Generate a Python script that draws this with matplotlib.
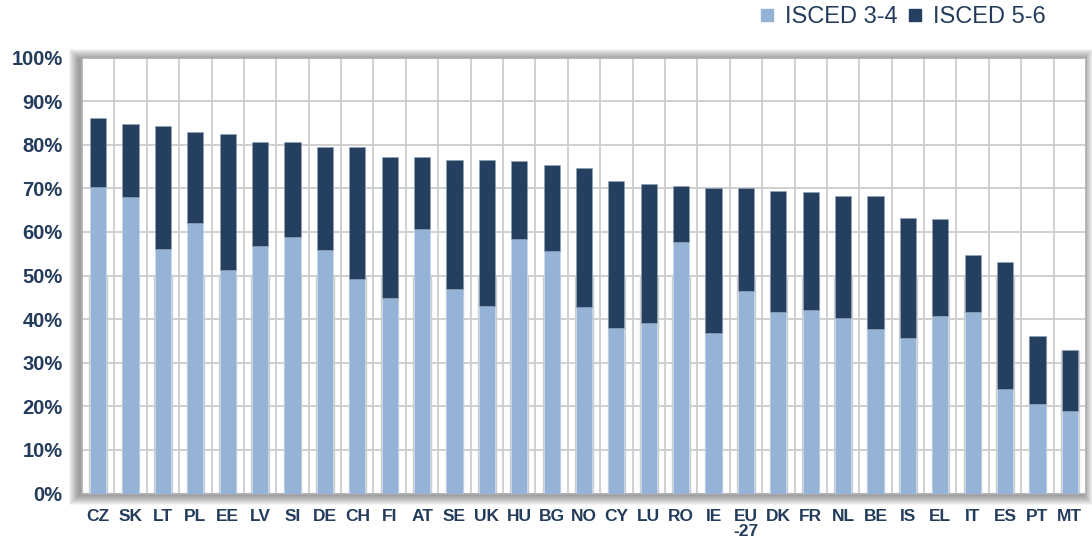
import matplotlib
matplotlib.use("Agg")
import matplotlib.pyplot as plt
from matplotlib.patches import Rectangle
from matplotlib.lines import Line2D
import numpy as np

# data (share of population, %)
countries = ["CZ", "SK", "LT", "PL", "EE", "LV", "SI", "DE", "CH", "FI", "AT", "SE", "UK", "HU",
             "BG", "NO", "CY", "LU", "RO", "IE", "EU\n-27", "DK", "FR", "NL", "BE", "IS", "EL",
             "IT", "ES", "PT", "MT"]
isced_34 = [70.3, 68.0, 56.1, 62.0, 51.2, 56.8, 58.8, 55.8, 49.1, 44.8, 60.6, 46.8, 43.0, 58.3,
            55.6, 42.7, 37.9, 39.1, 57.7, 36.8, 46.4, 41.6, 42.1, 40.3, 37.7, 35.6, 40.6,
            41.6, 23.9, 20.6, 18.9]
total = [86.2, 84.7, 84.4, 82.9, 82.4, 80.6, 80.6, 79.4, 79.4, 77.1, 77.1, 76.5, 76.5, 76.2,
         75.3, 74.7, 71.7, 71.1, 70.6, 70.1, 70.1, 69.4, 69.1, 68.2, 68.2, 63.3, 63.0,
         54.7, 53.0, 36.2, 32.9]
isced_56 = [t - l for t, l in zip(total, isced_34)]

light = "#95b3d7"
dark = "#253f60"
txt = "#243c5c"
gridc = "#cdcdcd"

plt.rcParams['font.family'] = ['Liberation Sans', 'DejaVu Sans']

W, H = 1092, 544
fig = plt.figure(figsize=(W / 100, H / 100), dpi=100)
fig.patch.set_facecolor("white")

x0, y0, x1, y1 = 82, 50.5, 1086, 486.5   # plot area in pixels (from bottom)
ax = fig.add_axes([x0 / W, y0 / H, (x1 - x0) / W, (y1 - y0) / H])

# soft shadow around the plot area
for k in range(1, 11):
    fig.add_artist(Rectangle(((x0 - 3 - k) / W, (y0 - 1 - k) / H),
                             (x1 - x0 + 2 * k) / W, (y1 - y0 + 2 * k) / H,
                             transform=fig.transFigure, facecolor="black",
                             alpha=0.045, edgecolor="none", zorder=0))

x = np.arange(len(countries))
bw = 0.5
ax.bar(x, isced_34, bw, color=light, edgecolor="#c9d8ea", linewidth=0.4, zorder=3)
ax.bar(x, isced_56, bw, bottom=isced_34, color=dark, edgecolor="#8fa3bb", linewidth=0.4, zorder=3)

# faint lines along bar edges in the lower half, as in the original
tops = np.minimum(total, 50)
ax.vlines(np.concatenate([x - bw / 2 - 0.02, x + bw / 2 + 0.02]), 0, np.concatenate([tops, tops]),
          color=gridc, linewidth=1, zorder=1)

ax.set_xlim(-0.5, len(countries) - 0.5)
ax.set_ylim(0, 100)
ax.set_yticks(range(0, 101, 10))
ax.set_yticklabels([f"{v}%" for v in range(0, 101, 10)])
ax.set_xticks(x)
ax.set_xticklabels(countries)
ax.set_xticks(np.arange(0.5, len(countries) - 0.5, 1), minor=True)
ax.grid(True, axis="y", which="major", color=gridc, linewidth=1.3, zorder=0)
ax.grid(True, axis="x", which="minor", color=gridc, linewidth=1.3, zorder=0)
ax.set_axisbelow(True)
ax.tick_params(axis="both", which="both", length=0)
ax.tick_params(axis="y", pad=14, labelsize=14.5, labelcolor=txt)
ax.tick_params(axis="x", pad=11, labelsize=12.5, labelcolor=txt)
for lab in ax.get_xticklabels() + ax.get_yticklabels():
    lab.set_fontweight("bold")
for lab in ax.get_xticklabels():
    lab.set_linespacing(1.0)
    lab.set_verticalalignment("top")
for sp in ax.spines.values():
    sp.set_color("#adadad")
    sp.set_linewidth(1.2)

handles = [Line2D([], [], marker="s", linestyle="none", markersize=9, color=light),
           Line2D([], [], marker="s", linestyle="none", markersize=9, color=dark)]
fig.legend(handles, ["ISCED 3-4", "ISCED 5-6"], ncol=2, frameon=False,
           loc="center right", bbox_to_anchor=(1058 / W, 1 - 17 / H),
           fontsize=17, labelcolor=txt, handlelength=0.8, handletextpad=0.4,
           columnspacing=0.3, borderpad=0)

fig.savefig("out.png", dpi=100)
